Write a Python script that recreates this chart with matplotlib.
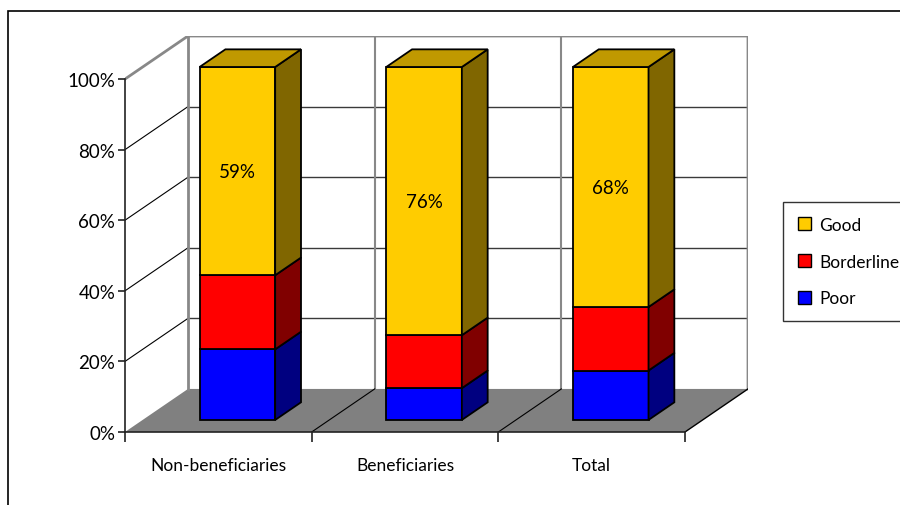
import matplotlib
matplotlib.use("Agg")
import matplotlib.pyplot as plt
from matplotlib.patches import Polygon, Patch, Rectangle
from matplotlib.lines import Line2D

plt.rcParams['font.family'] = ['Lato', 'DejaVu Sans']
plt.rcParams['font.size'] = 12

categories = ['Non-beneficiaries', 'Beneficiaries', 'Total']
series = ['Poor', 'Borderline', 'Good']
poor = [20, 9, 14]
borderline = [21, 15, 18]
good = [59, 76, 68]
yticks = [0, 20, 40, 60, 80, 100]

# front / top / side shades for each series
colors = {
    'Poor': ('#0000FF', '#0000C0', '#000080'),
    'Borderline': ('#FF0000', '#C00000', '#800000'),
    'Good': ('#FFCC00', '#C09900', '#806600'),
}

# oblique depth offset (in data units) of the back wall
DX = 0.3375
DY = 12.2
# bar placement inside a category slot, and its depth range
BAR_L, BAR_W = 0.305, 0.405
D0, D1 = 0.28, 0.69


def P(x, v, d):
    return (x + d * DX, v + d * DY)


fig = plt.figure(figsize=(9, 5.06), dpi=100)
ax = fig.add_axes([125 / 900, (506 - 433) / 506, (748 - 125) / 900, (433 - 37) / 506])
n = len(categories)
ax.set_xlim(0, n + DX)
ax.set_ylim(0, 100 + DY)
for s in ['top', 'right']:
    ax.spines[s].set_visible(False)
ax.spines['left'].set_bounds(0, 100)
ax.spines['bottom'].set_bounds(0, n)
for s in ['left', 'bottom']:
    ax.spines[s].set_color('#222222')
    ax.spines[s].set_linewidth(1.2)
    ax.spines[s].set_zorder(5)
ax.set_yticks(yticks, [f'{t}%' for t in yticks])
ax.set_xticks(range(n + 1), [''] * (n + 1))
ax.tick_params(axis='y', direction='out', length=5, width=1.2, color='#222222', pad=2, labelsize=13.5)
ax.tick_params(axis='x', direction='out', length=7, width=1.2, color='#222222')
ax.patch.set_visible(False)

gray = '#888888'
# floor
ax.add_patch(Polygon([P(0, 0, 0), P(n, 0, 0), P(n, 0, 1), P(0, 0, 1)],
                     closed=True, facecolor='#808080', edgecolor='none', zorder=1))
ax.add_line(Line2D(*zip(P(n, 0, 0), P(n, 0, 1)), color='black', lw=1, zorder=2))
for i in range(1, n):
    ax.add_line(Line2D(*zip(P(i, 0, 0), P(i, 0, 1)), color='black', lw=0.8, zorder=2))

# gridlines on the back and left walls
for t in yticks[1:-1]:
    ax.add_line(Line2D(*zip(P(0, t, 1), P(n, t, 1)), color='#3a3a3a', lw=1, zorder=1))
    ax.add_line(Line2D(*zip(P(0, t, 0), P(0, t, 1)), color='black', lw=0.8, zorder=1))

# wall edges
ax.add_line(Line2D(*zip(P(0, 100, 0), P(0, 100, 1), P(n, 100, 1), P(n, 0, 1)), color=gray, lw=2, zorder=1))
ax.add_line(Line2D(*zip(P(0, 100, 1), P(0, 0, 1)), color=gray, lw=2, zorder=1))
for i in range(1, n):
    ax.add_line(Line2D(*zip(P(i, 100, 1), P(i, 0, 1)), color=gray, lw=1.5, zorder=1))

# stacked bars
values = {'Poor': poor, 'Borderline': borderline, 'Good': good}
for i in range(n):
    x0 = i + BAR_L
    x1 = x0 + BAR_W
    base = 0
    for k, name in enumerate(series):
        v = values[name][i]
        top = base + v
        front, topc, side = colors[name]
        ax.add_patch(Polygon([P(x0, base, D0), P(x1, base, D0), P(x1, top, D0), P(x0, top, D0)],
                             closed=True, facecolor=front, edgecolor='black', lw=1.3, zorder=3))
        ax.add_patch(Polygon([P(x1, base, D0), P(x1, base, D1), P(x1, top, D1), P(x1, top, D0)],
                             closed=True, facecolor=side, edgecolor='black', lw=1.3, zorder=3))
        if k == len(series) - 1:
            ax.add_patch(Polygon([P(x0, top, D0), P(x1, top, D0), P(x1, top, D1), P(x0, top, D1)],
                                 closed=True, facecolor=topc, edgecolor='black', lw=1.3, zorder=3))
            cx, cy = P((x0 + x1) / 2, base + v / 2, D0)
            ax.text(cx, cy, f'{v}%', ha='center', va='center', fontsize=13.5, zorder=4)
        base = top

# category labels under the floor
for i, c in enumerate(categories):
    ax.text(i + 0.5, -9.4, c, ha='center', va='center', fontsize=12.5, clip_on=False)

handles = [Patch(facecolor=colors[s][0], edgecolor='black', lw=1) for s in ['Good', 'Borderline', 'Poor']]
leg = fig.legend(handles, ['Good', 'Borderline', 'Poor'], loc='upper left',
                 bbox_to_anchor=(783 / 900, 1 - 203 / 506), borderaxespad=0,
                 fancybox=False, frameon=True, handlelength=0.75, handleheight=0.75,
                 handletextpad=0.5, labelspacing=1.2, borderpad=0.85, fontsize=12.5)
leg.get_frame().set_edgecolor('black')
leg.get_frame().set_linewidth(1)

# outer chart border
fig.add_artist(Rectangle((8 / 900, -0.1), 1.2, 1 - 12 / 506 + 0.1, transform=fig.transFigure,
                         facecolor='none', edgecolor='black', lw=1.2))

fig.savefig('out.png', dpi=100)
